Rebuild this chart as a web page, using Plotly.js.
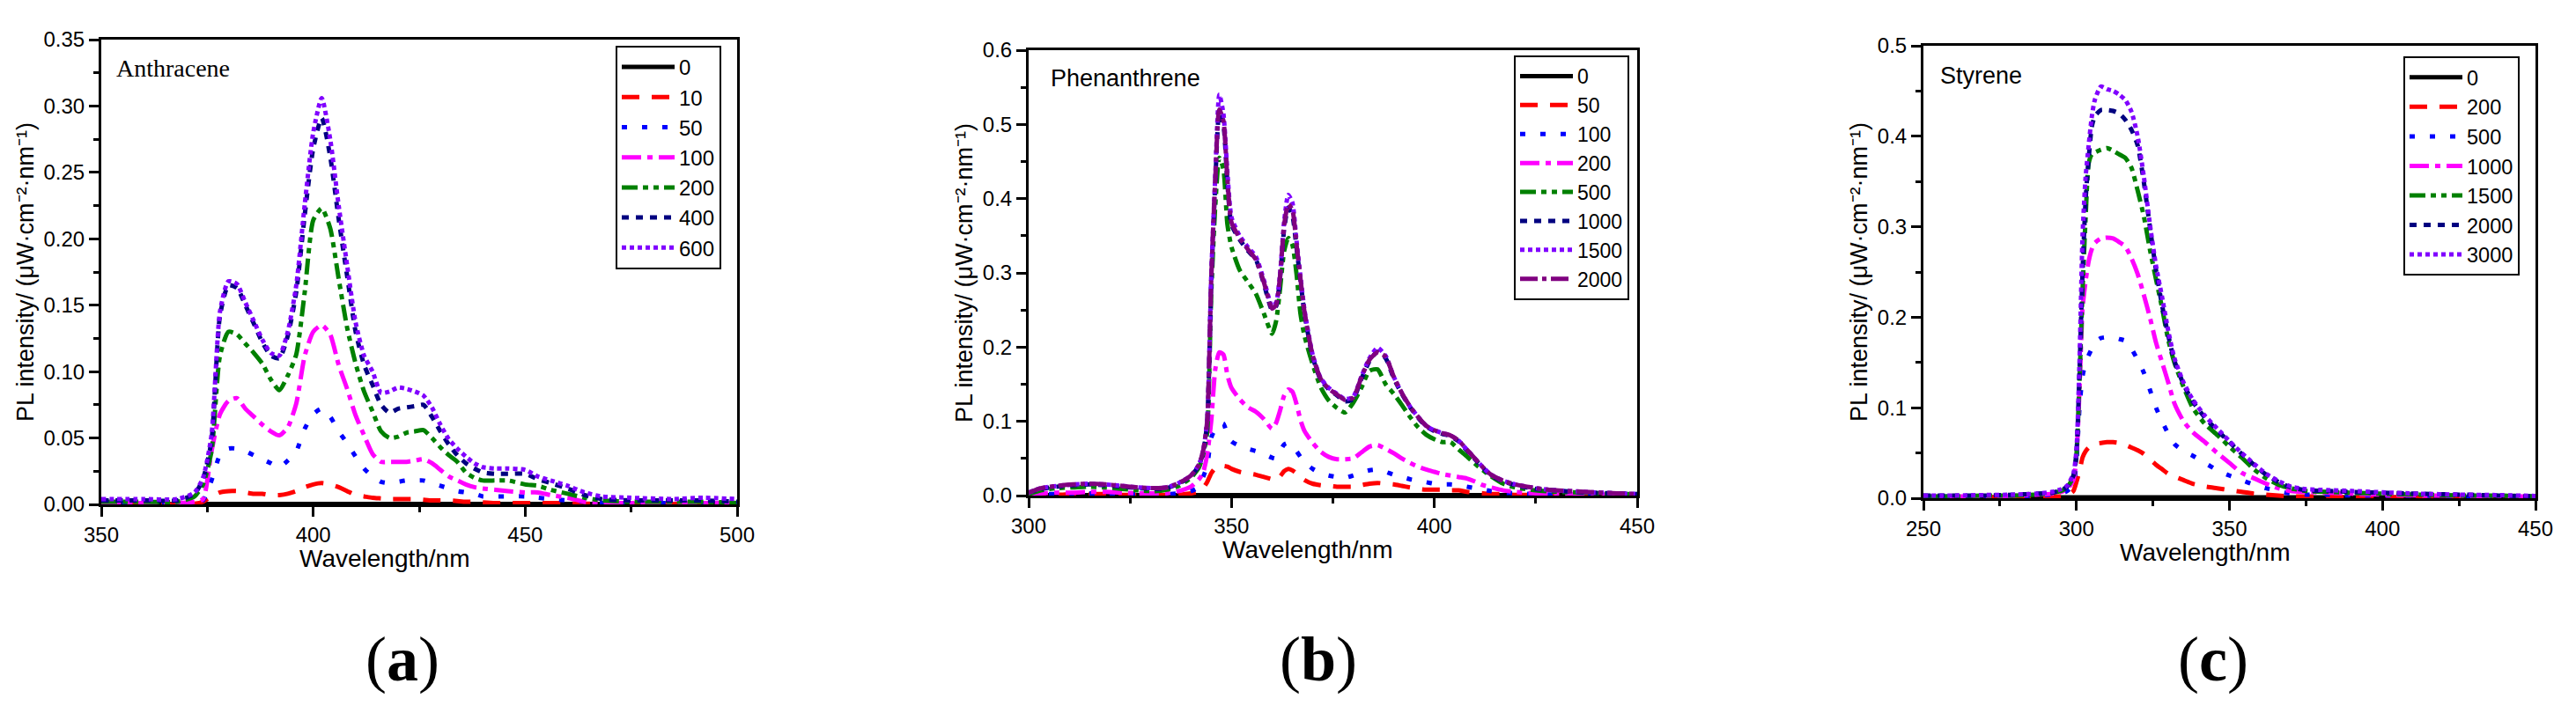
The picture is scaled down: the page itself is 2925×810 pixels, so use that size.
<!DOCTYPE html>
<html>
<head>
<meta charset="utf-8">
<script src="https://cdn.plot.ly/plotly-3.0.1.min.js"></script>
<style>
html,body{margin:0;padding:0;background:#ffffff;}
#chart{width:2925px;height:810px;}
</style>
</head>
<body>
<div id="chart"></div>
<script>
// ---------- Panel (a): Anthracene ----------
const anthWavelength = [350,360,368,372,374,376,378,380,382,384,386,388,390,392,394,396,398,400,402,404,406,408,410,412,414,416,418,420,422,424,426,428,430,432,434,436,438,440,443,446,450,453,456,460,464,468,475,485,492,500];
const anthLabels = ['0','10','50','100','200','400','600'];
const anth0 = [0.0003,0.0003,0.0003,0.0003,0.0003,0.0003,0.0003,0.0003,0.0003,0.0003,0.0003,0.0003,0.0003,0.0003,0.0003,0.0003,0.0003,0.0003,0.0003,0.0003,0.0003,0.0003,0.0003,0.0003,0.0003,0.0003,0.0003,0.0003,0.0003,0.0003,0.0003,0.0003,0.0003,0.0003,0.0003,0.0003,0.0003,0.0003,0.0003,0.0003,0.0003,0.0003,0.0003,0.0003,0.0003,0.0003,0.0003,0.0003,0.0003,0.0003];
const anth10 = [0,0,0,0.0005,0.002,0.006,0.009,0.010,0.010,0.009,0.008,0.008,0.007,0.007,0.008,0.010,0.013,0.015,0.016,0.015,0.013,0.010,0.007,0.006,0.005,0.0045,0.004,0.004,0.004,0.004,0.0035,0.003,0.003,0.003,0.0025,0.002,0.002,0.0015,0.001,0.001,0.001,0.001,0.001,0.0008,0.0005,0.0005,0.0003,0.0003,0.0003,0.0003];
const anth50 = [0.001,0.001,0.001,0.001,0.003,0.018,0.037,0.042,0.042,0.040,0.037,0.034,0.031,0.028,0.033,0.040,0.057,0.068,0.072,0.066,0.055,0.046,0.036,0.027,0.021,0.017,0.016,0.017,0.018,0.018,0.018,0.016,0.014,0.012,0.010,0.009,0.008,0.006,0.006,0.006,0.006,0.005,0.004,0.003,0.002,0.001,0.001,0.001,0.001,0.001];
const anth100 = [0.001,0.001,0.001,0.002,0.004,0.040,0.068,0.078,0.080,0.072,0.066,0.060,0.055,0.052,0.058,0.076,0.112,0.130,0.135,0.128,0.105,0.087,0.067,0.052,0.038,0.032,0.032,0.032,0.032,0.033,0.034,0.031,0.026,0.021,0.018,0.015,0.013,0.012,0.011,0.010,0.009,0.009,0.007,0.005,0.002,0.001,0.001,0.001,0.001,0.001];
const anth200 = [0.002,0.002,0.002,0.006,0.015,0.040,0.112,0.130,0.128,0.121,0.114,0.106,0.094,0.086,0.097,0.113,0.160,0.214,0.223,0.208,0.170,0.133,0.106,0.085,0.070,0.055,0.050,0.051,0.054,0.055,0.056,0.050,0.043,0.037,0.032,0.024,0.020,0.018,0.018,0.018,0.015,0.014,0.011,0.008,0.005,0.003,0.002,0.002,0.002,0.001];
const anth400 = [0.003,0.003,0.003,0.008,0.019,0.048,0.142,0.165,0.163,0.150,0.136,0.122,0.112,0.110,0.127,0.160,0.218,0.268,0.291,0.262,0.215,0.172,0.130,0.105,0.090,0.075,0.069,0.072,0.073,0.074,0.075,0.066,0.055,0.045,0.037,0.031,0.027,0.024,0.023,0.023,0.023,0.019,0.016,0.012,0.007,0.004,0.003,0.003,0.003,0.002];
const anth600 = [0.004,0.004,0.004,0.009,0.020,0.052,0.145,0.168,0.166,0.152,0.138,0.124,0.114,0.112,0.130,0.165,0.226,0.280,0.306,0.275,0.225,0.180,0.137,0.112,0.100,0.084,0.085,0.088,0.087,0.085,0.082,0.073,0.060,0.049,0.042,0.036,0.031,0.028,0.027,0.027,0.026,0.021,0.018,0.014,0.009,0.006,0.005,0.004,0.005,0.004];

// ---------- Panel (b): Phenanthrene ----------
const phenWavelength = [300,303,307,311,315,319,323,327,331,334,337,340,342,343,344,345,346,347,348,349,350,352,354,356,358,360,361,362,363,364,365,366,367,368,370,372,374,376,378,380,382,384,386,388,390,392,394,396,398,400,402,404,406,408,410,412,414,417,420,425,430,437,445,450];
const phenLabels = ['0','50','100','200','500','1000','1500','2000'];
const phen0 = [0.0005,0.0005,0.0005,0.0005,0.0005,0.0005,0.0005,0.0005,0.0005,0.0005,0.0005,0.0005,0.0005,0.0005,0.0005,0.0005,0.0005,0.0005,0.0005,0.0005,0.0005,0.0005,0.0005,0.0005,0.0005,0.0005,0.0005,0.0005,0.0005,0.0005,0.0005,0.0005,0.0005,0.0005,0.0005,0.0005,0.0005,0.0005,0.0005,0.0005,0.0005,0.0005,0.0005,0.0005,0.0005,0.0005,0.0005,0.0005,0.0005,0.0005,0.0005,0.0005,0.0005,0.0005,0.0005,0.0005,0.0005,0.0005,0.0005,0.0005,0.0005,0.0005,0.0005,0.0005];
const phen50 = [0.001,0.001,0.001,0.002,0.002,0.002,0.001,0.001,0.001,0.001,0.001,0.003,0.005,0.010,0.018,0.030,0.037,0.039,0.040,0.039,0.036,0.032,0.030,0.028,0.025,0.022,0.021,0.026,0.033,0.036,0.034,0.030,0.025,0.021,0.016,0.014,0.013,0.012,0.012,0.012,0.014,0.016,0.017,0.016,0.015,0.013,0.011,0.009,0.008,0.008,0.008,0.007,0.007,0.005,0.004,0.003,0.002,0.002,0.001,0.001,0.001,0.001,0.0005,0.0005];
const phen100 = [0.001,0.002,0.002,0.003,0.003,0.003,0.002,0.002,0.002,0.002,0.003,0.006,0.012,0.025,0.040,0.078,0.090,0.097,0.097,0.082,0.073,0.067,0.063,0.060,0.056,0.051,0.050,0.060,0.069,0.071,0.066,0.060,0.052,0.045,0.036,0.030,0.027,0.025,0.024,0.027,0.031,0.034,0.035,0.032,0.028,0.025,0.022,0.020,0.018,0.016,0.015,0.015,0.014,0.012,0.010,0.008,0.006,0.004,0.003,0.002,0.001,0.001,0.001,0.001];
const phen200 = [0.002,0.003,0.004,0.004,0.005,0.005,0.004,0.003,0.003,0.003,0.006,0.012,0.022,0.031,0.055,0.100,0.170,0.193,0.190,0.162,0.145,0.130,0.119,0.113,0.103,0.090,0.098,0.115,0.135,0.143,0.140,0.124,0.102,0.087,0.071,0.059,0.052,0.049,0.049,0.050,0.058,0.066,0.068,0.063,0.057,0.050,0.044,0.039,0.035,0.032,0.029,0.027,0.025,0.023,0.019,0.014,0.011,0.007,0.005,0.003,0.002,0.002,0.001,0.001];
const phen500 = [0.002,0.007,0.010,0.011,0.012,0.011,0.009,0.007,0.006,0.008,0.013,0.024,0.038,0.055,0.085,0.270,0.390,0.455,0.440,0.365,0.335,0.304,0.288,0.272,0.245,0.218,0.235,0.280,0.330,0.347,0.338,0.300,0.245,0.215,0.177,0.146,0.128,0.118,0.112,0.125,0.145,0.168,0.170,0.150,0.137,0.122,0.106,0.092,0.082,0.076,0.072,0.072,0.062,0.053,0.043,0.034,0.026,0.016,0.011,0.007,0.005,0.004,0.002,0.002];
const phen1000 = [0.004,0.009,0.012,0.014,0.015,0.014,0.012,0.010,0.009,0.010,0.016,0.026,0.041,0.058,0.098,0.285,0.420,0.515,0.500,0.420,0.365,0.345,0.330,0.318,0.285,0.250,0.255,0.295,0.360,0.388,0.378,0.335,0.290,0.245,0.187,0.156,0.143,0.135,0.127,0.130,0.157,0.181,0.194,0.185,0.158,0.137,0.119,0.105,0.093,0.087,0.083,0.080,0.073,0.061,0.049,0.037,0.027,0.019,0.014,0.009,0.007,0.004,0.003,0.002];
const phen1500 = [0.004,0.010,0.013,0.015,0.016,0.015,0.013,0.011,0.010,0.011,0.017,0.027,0.042,0.060,0.100,0.295,0.430,0.540,0.515,0.435,0.375,0.350,0.335,0.322,0.290,0.255,0.260,0.300,0.370,0.405,0.395,0.345,0.295,0.250,0.190,0.158,0.145,0.137,0.130,0.133,0.160,0.185,0.199,0.188,0.160,0.138,0.120,0.106,0.094,0.088,0.084,0.081,0.074,0.062,0.050,0.038,0.028,0.020,0.015,0.010,0.007,0.005,0.003,0.002];
const phen2000 = [0.004,0.010,0.013,0.015,0.016,0.015,0.013,0.011,0.010,0.011,0.017,0.027,0.042,0.060,0.100,0.290,0.425,0.520,0.505,0.425,0.368,0.347,0.332,0.318,0.287,0.252,0.257,0.297,0.365,0.392,0.385,0.340,0.292,0.247,0.189,0.157,0.144,0.136,0.129,0.132,0.159,0.183,0.193,0.187,0.160,0.138,0.120,0.106,0.094,0.088,0.084,0.081,0.074,0.062,0.050,0.038,0.028,0.020,0.015,0.010,0.007,0.005,0.003,0.002];

// ---------- Panel (c): Styrene ----------
const styWavelength = [250,260,270,280,287,292,295,297,299,300,301,302,303,304,305,306,308,310,312,314,316,318,320,322,324,326,328,330,332,335,338,342,346,350,354,358,362,366,370,375,382,390,400,412,425,437,450];
const styLabels = ['0','200','500','1000','1500','2000','3000'];
const sty0 = [0.001,0.001,0.001,0.001,0.001,0.001,0.001,0.001,0.001,0.001,0.001,0.001,0.001,0.001,0.001,0.001,0.001,0.001,0.001,0.001,0.001,0.001,0.001,0.001,0.001,0.001,0.001,0.001,0.001,0.001,0.001,0.001,0.001,0.001,0.001,0.001,0.001,0.001,0.001,0.001,0.001,0.001,0.001,0.001,0.001,0.001,0.001];
const sty200 = [0.001,0.001,0.001,0.001,0.001,0.002,0.002,0.003,0.008,0.018,0.030,0.045,0.052,0.056,0.058,0.060,0.061,0.062,0.062,0.061,0.059,0.056,0.053,0.049,0.043,0.037,0.032,0.027,0.024,0.020,0.016,0.013,0.011,0.009,0.007,0.005,0.004,0.003,0.002,0.002,0.002,0.001,0.001,0.001,0.001,0.001,0.001];
const sty500 = [0.002,0.002,0.002,0.002,0.003,0.004,0.005,0.008,0.015,0.040,0.100,0.135,0.150,0.158,0.165,0.172,0.177,0.178,0.178,0.176,0.174,0.165,0.153,0.139,0.120,0.100,0.085,0.071,0.060,0.052,0.047,0.039,0.031,0.025,0.020,0.015,0.011,0.008,0.005,0.004,0.004,0.003,0.003,0.003,0.002,0.002,0.002];
const sty1000 = [0.002,0.002,0.002,0.003,0.004,0.005,0.007,0.010,0.020,0.045,0.120,0.210,0.240,0.262,0.275,0.282,0.287,0.288,0.287,0.283,0.278,0.265,0.248,0.225,0.200,0.172,0.150,0.128,0.105,0.085,0.073,0.062,0.050,0.039,0.028,0.022,0.016,0.011,0.008,0.007,0.006,0.005,0.004,0.003,0.003,0.002,0.002];
const sty1500 = [0.002,0.002,0.003,0.003,0.004,0.006,0.008,0.012,0.024,0.048,0.130,0.230,0.310,0.370,0.380,0.382,0.385,0.387,0.384,0.380,0.376,0.365,0.340,0.312,0.275,0.242,0.210,0.175,0.150,0.123,0.100,0.082,0.070,0.057,0.045,0.032,0.022,0.015,0.011,0.008,0.007,0.006,0.005,0.004,0.003,0.003,0.002];
const sty2000 = [0.003,0.003,0.003,0.004,0.005,0.006,0.009,0.013,0.025,0.050,0.140,0.250,0.330,0.375,0.410,0.422,0.429,0.429,0.428,0.425,0.418,0.407,0.390,0.350,0.300,0.252,0.213,0.180,0.152,0.126,0.107,0.089,0.075,0.062,0.049,0.037,0.026,0.018,0.012,0.009,0.008,0.007,0.006,0.005,0.004,0.003,0.002];
const sty3000 = [0.003,0.003,0.0035,0.004,0.005,0.007,0.010,0.014,0.027,0.053,0.150,0.290,0.355,0.390,0.421,0.440,0.455,0.452,0.450,0.446,0.440,0.427,0.400,0.356,0.303,0.257,0.222,0.185,0.155,0.128,0.109,0.091,0.077,0.063,0.050,0.038,0.027,0.019,0.013,0.010,0.009,0.008,0.0065,0.005,0.004,0.0035,0.0025];

// ---------- styles ----------
const FONT = 'Liberation Sans, Arial, Helvetica, sans-serif';
const SERIF = 'Liberation Serif, Times New Roman, serif';
const ST = {
  solid:   {color:'#000000', dash:'solid'},
  dash:    {color:'#FF0000', dash:'20px,14px'},
  dot:     {color:'#0000FF', dash:'6px,17px'},
  dashdot: {color:'#FF00FF', dash:'22px,7px,6px,7px'},
  dashdotdot: {color:'#008000', dash:'18px,6px,6px,6px,6px,6px'},
  shortdash: {color:'#000080', dash:'8px,8px'},
  shortdot: {color:'#8000FF', dash:'5px,4px'},
  shortdashdot: {color:'#800080', dash:'20px,5px,5px,5px'}
};
const anthStyles = ['solid','dash','dot','dashdot','dashdotdot','shortdash','shortdot'];
const phenStyles = ['solid','dash','dot','dashdot','dashdotdot','shortdash','shortdot','shortdashdot'];
const styStyles  = ['solid','dash','dot','dashdot','dashdotdot','shortdash','shortdot'];

function mk(x, y, name, st, xa, ya, lg) {
  return {
    type:'scatter', mode:'lines', x:x, y:y, name:name,
    xaxis:xa, yaxis:ya, legend:lg, cliponaxis:true,
    line:{color:ST[st].color, dash:ST[st].dash, width:5, shape:'spline', smoothing:0.6},
    hoverinfo:'skip'
  };
}

const anthSeries = [anth0, anth10, anth50, anth100, anth200, anth400, anth600];
const phenSeries = [phen0, phen50, phen100, phen200, phen500, phen1000, phen1500, phen2000];
const stySeries  = [sty0, sty200, sty500, sty1000, sty1500, sty2000, sty3000];

const data = [];
anthSeries.forEach((s,i)=>data.push(mk(anthWavelength, s, anthLabels[i], anthStyles[i], 'x', 'y', 'legend')));
phenSeries.forEach((s,i)=>data.push(mk(phenWavelength, s, phenLabels[i], phenStyles[i], 'x2', 'y2', 'legend2')));
stySeries.forEach((s,i)=>data.push(mk(styWavelength, s, styLabels[i], styStyles[i], 'x3', 'y3', 'legend3')));

const W = 2925, H = 810;
function axBase(extra) {
  return Object.assign({
    showline:true, linewidth:3, linecolor:'#000', mirror:true,
    ticks:'outside', ticklen:11, tickwidth:3, tickcolor:'#000',
    showgrid:false, zeroline:false, fixedrange:true,
    tickfont:{family:FONT, size:24, color:'#000'}
  }, extra);
}
const yTitle = 'PL intensity/ (μW·cm⁻²·nm⁻¹)';
function yT(){ return {text:yTitle, font:{family:FONT, size:27, color:'#000'}, standoff:4}; }
function minor(d){ return {ticks:'outside', ticklen:6, tickwidth:3, tickcolor:'#000', dtick:d}; }

function legendCfg(xr, yt, fs) {
  return {x:xr, xanchor:'right', y:yt, yanchor:'top', bgcolor:'#ffffff',
    bordercolor:'#000', borderwidth:2, font:{family:FONT, size:fs, color:'#000'},
    itemwidth:60, tracegroupgap:0, traceorder:'normal'};
}
function txt(x, y, text, family, size, anchor) {
  return {xref:'paper', yref:'paper', x:x/W, y:1-y/H, xanchor:anchor, yanchor:'middle',
    showarrow:false, text:text, font:{family:family, size:size, color:'#000'}};
}

const layout = {
  width:W, height:H, margin:{l:0, r:0, t:0, b:0},
  paper_bgcolor:'#ffffff', plot_bgcolor:'#ffffff',
  showlegend:true,
  font:{family:FONT, color:'#000'},
  xaxis: axBase({domain:[115/W, 837/W], range:[350,500], dtick:50, tick0:350, anchor:'y', minor:minor(25)}),
  yaxis: axBase({domain:[1-573/H, 1-45/H], range:[0,0.35], dtick:0.05, tick0:0, tickformat:'.2f', anchor:'x', title:yT(), minor:minor(0.025)}),
  xaxis2: axBase({domain:[1168/W, 1859/W], range:[300,450], dtick:50, tick0:300, anchor:'y2', minor:minor(25)}),
  yaxis2: axBase({domain:[1-563/H, 1-57/H], range:[0,0.6], dtick:0.1, tick0:0, tickformat:'.1f', anchor:'x2', title:yT(), minor:minor(0.05)}),
  xaxis3: axBase({domain:[2184/W, 2879/W], range:[250,450], dtick:50, tick0:250, anchor:'y3', minor:minor(25)}),
  yaxis3: axBase({domain:[1-566/H, 1-52/H], range:[0,0.5], dtick:0.1, tick0:0, tickformat:'.1f', anchor:'x3', title:yT(), minor:minor(0.05)}),
  legend: legendCfg(819/W, 1-52/H, 24),
  legend2: legendCfg(1850/W, 1-63/H, 23),
  legend3: legendCfg(2861/W, 1-64/H, 23.5),
  annotations: [
    txt(130, 77, 'Anthracene', SERIF, 28, 'left'),
    txt(1191, 89, 'Phenanthrene', FONT, 27, 'left'),
    txt(2201, 86, 'Styrene', FONT, 27, 'left'),
    txt(437, 634, 'Wavelength/nm', FONT, 28, 'center'),
    txt(1485, 624, 'Wavelength/nm', FONT, 28, 'center'),
    txt(2504, 627, 'Wavelength/nm', FONT, 28, 'center'),
    txt(457, 749, '(<b>a</b>)', SERIF, 72, 'center'),
    txt(1497, 749, '(<b>b</b>)', SERIF, 72, 'center'),
    txt(2513, 749, '(<b>c</b>)', SERIF, 72, 'center')
  ]
};

Plotly.newPlot('chart', data, layout, {staticPlot:true, displayModeBar:false});
</script>
</body>
</html>
